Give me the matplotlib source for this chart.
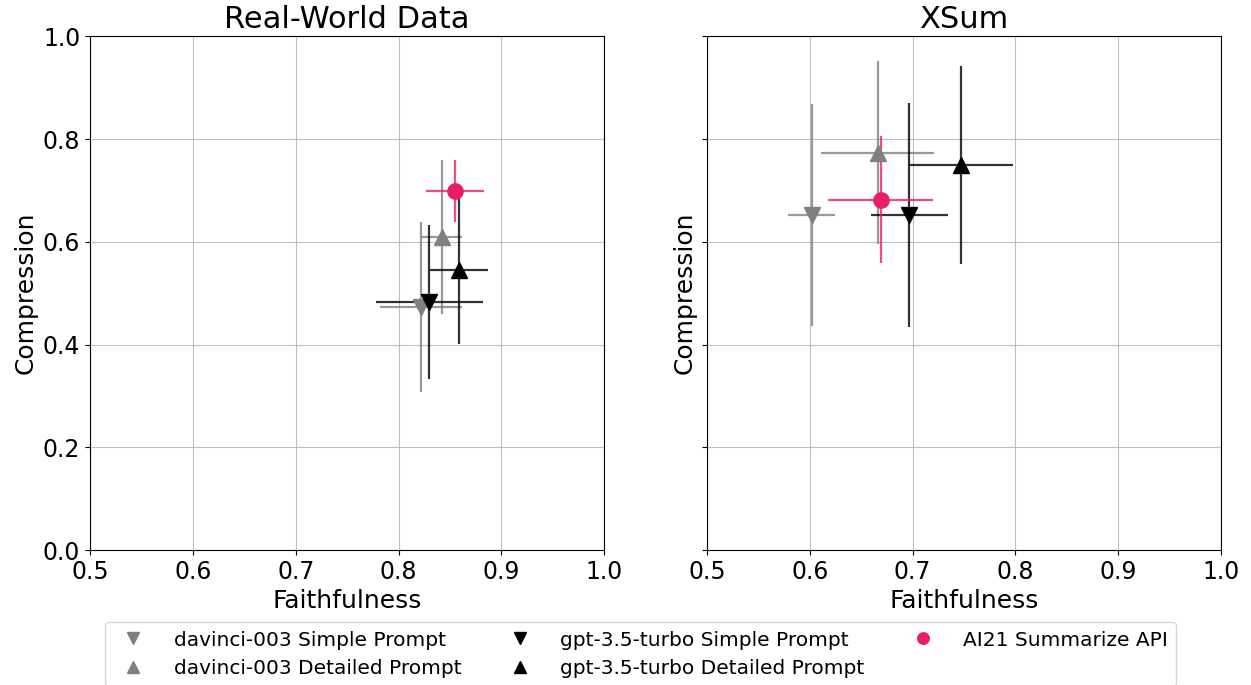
import numpy as np
import matplotlib
matplotlib.use('Agg')
import matplotlib.pyplot as plt

# Dados: fidelidade (x) e compressão (y) com desvios
labels = ['davinci-003 Simple Prompt', 'davinci-003 Detailed Prompt',
          'gpt-3.5-turbo Simple Prompt', 'gpt-3.5-turbo Detailed Prompt',
          'AI21 Summarize API']
markers = ['v', '^', 'v', '^', 'o']
colors = ['#808080', '#808080', '#000000', '#000000', '#E91E63']

# Real-World Data
rw_x = [0.822, 0.842, 0.830, 0.859, 0.855]
rw_y = [0.473, 0.610, 0.482, 0.545, 0.699]
rw_xerr = [0.040, 0.020, 0.052, 0.028, 0.028]
rw_yerr = [0.166, 0.150, 0.150, 0.143, 0.060]

# XSum
xs_x = [0.602, 0.666, 0.697, 0.747, 0.669]
xs_y = [0.652, 0.773, 0.652, 0.749, 0.682]
xs_xerr = [0.023, 0.055, 0.037, 0.051, 0.051]
xs_yerr = [0.216, 0.178, 0.218, 0.193, 0.123]

fig, axes = plt.subplots(1, 2, figsize=(12.51, 6.85), dpi=100, sharey=True)
fig.subplots_adjust(left=0.072, right=0.976, top=0.947, bottom=0.197, wspace=0.2)

datasets = [('Real-World Data', rw_x, rw_y, rw_xerr, rw_yerr),
            ('XSum', xs_x, xs_y, xs_xerr, xs_yerr)]

for ax, (title, xs, ys, xe, ye) in zip(axes, datasets):
    for i in range(len(labels)):
        ax.errorbar(xs[i], ys[i], xerr=xe[i], yerr=ye[i], fmt='none',
                    ecolor=colors[i], alpha=0.8, elinewidth=1.6, capsize=0, zorder=2)
        ax.plot(xs[i], ys[i], linestyle='none', marker=markers[i], color=colors[i],
                markersize=11, label=labels[i], zorder=3)
    ax.set_xlim(0.5, 1.0)
    ax.set_ylim(0.0, 1.0)
    ax.set_xticks(np.arange(0.5, 1.01, 0.1))
    ax.set_yticks(np.arange(0.0, 1.01, 0.2))
    ax.grid(True, color='#b0b0b0', linewidth=0.8, alpha=0.8)
    ax.set_axisbelow(True)
    ax.set_title(title, fontsize=22)
    ax.set_xlabel('Faithfulness', fontsize=18)
    ax.set_ylabel('Compression', fontsize=18)
    ax.tick_params(labelsize=17)

axes[1].tick_params(labelleft=False)

handles, labs = axes[0].get_legend_handles_labels()
fig.legend(handles, labs, loc='upper center', bbox_to_anchor=(0.512, 0.106),
           ncol=3, fontsize=14.5, frameon=True, markerscale=0.75,
           labelspacing=0.45, columnspacing=1.9, handletextpad=1.0)

plt.savefig('out.png', dpi=100)
